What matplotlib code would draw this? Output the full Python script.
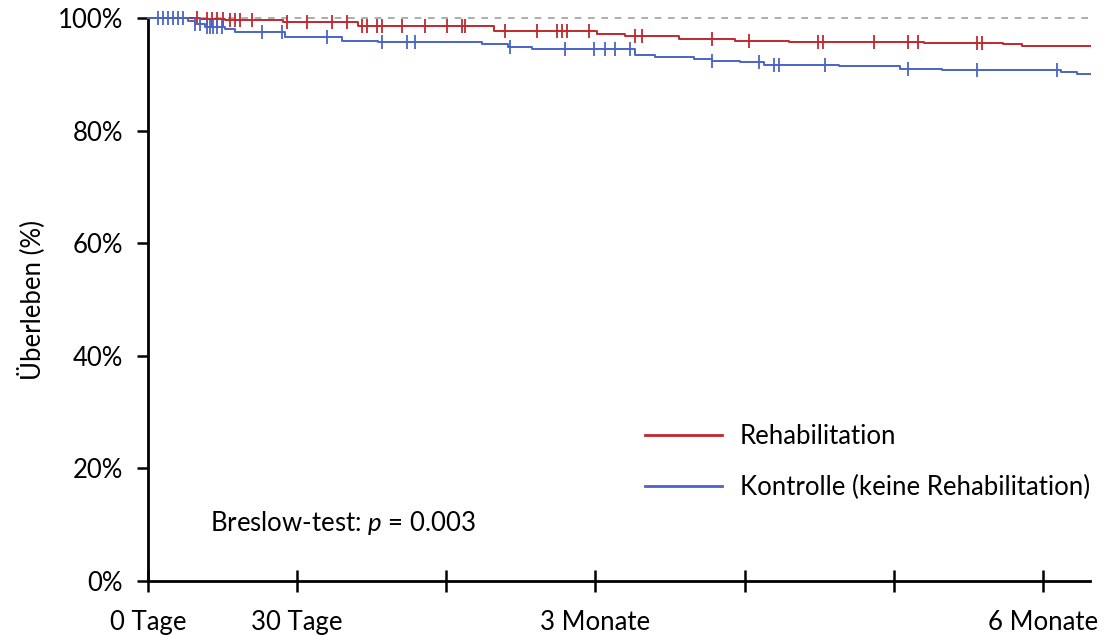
import matplotlib.pyplot as plt
import numpy as np

plt.rcParams["font.family"] = ["Lato", "DejaVu Sans"]
plt.rcParams["mathtext.fontset"] = "custom"
plt.rcParams["mathtext.it"] = "Lato:italic"
plt.rcParams["mathtext.rm"] = "Lato"

# Kaplan-Meier steps (days, survival % after the event)
reha_t = [10.5, 15.5, 27.1, 42.2, 69.7, 90.3, 95.9, 106.9, 118.0, 122.0,
          129.0, 156.2, 171.9, 175.9]
reha_s = [99.9, 99.7, 99.3, 98.5, 97.7, 97.2, 96.8, 96.3, 96.0, 95.9,
          95.7, 95.6, 95.4, 95.1]
reha_cens = [9.8, 11.9, 12.9, 13.9, 15.1, 16.5, 17.5, 18.5, 20.9, 27.9,
             32.0, 37.0, 40.0, 43.0, 44.0, 46.0, 47.0, 51.1, 55.7, 60.1,
             63.1, 63.7, 71.8, 78.2, 82.2, 83.2, 84.2, 88.8, 97.9, 99.3,
             113.4, 121.0, 134.7, 135.7, 146.1, 152.8, 154.8, 166.8, 167.8]

kontr_t = [8.0, 9.4, 11.5, 15.5, 17.5, 27.5, 39.0, 46.2, 67.1, 72.4,
           77.2, 97.9, 101.9, 109.9, 113.4, 119.0, 124.0, 139.1, 151.2,
           159.8, 183.7, 186.9]
kontr_s = [99.5, 98.9, 98.4, 98.1, 97.5, 96.6, 96.0, 95.7, 95.3, 94.8,
           94.5, 93.5, 93.1, 92.8, 92.4, 92.1, 91.7, 91.5, 91.0, 90.7,
           90.4, 90.1]
kontr_cens = [2.0, 3.0, 4.0, 5.0, 6.0, 7.0, 9.4, 10.5, 11.9, 12.5, 13.1,
              13.9, 14.9, 22.9, 26.9, 36.0, 47.0, 52.1, 53.7, 72.8, 83.8,
              89.8, 91.9, 93.9, 96.9, 113.4, 123.0, 126.0, 127.0, 136.1,
              152.8, 166.8, 182.9]

t_end = 189.5
xticks = [0, 30, 60, 90, 120, 150, 180]
xticklabels = ["0 Tage", "30 Tage", "", "3 Monate", "", "", "6 Monate"]
yticks = [0, 20, 40, 60, 80, 100]

RED = "#C0282D"
BLUE = "#4A64C8"
FS = 18.5


def survAt(times, surv, x):
    s = 100.0
    for t, v in zip(times, surv):
        if t <= x:
            s = v
    return s


def plotKM(ax, times, surv, cens, color, label):
    xs = [0] + list(times) + [t_end]
    ys = [100] + list(surv) + [surv[-1]]
    ax.step(xs, ys, where="post", color=color, lw=1.4, clip_on=False,
            label=label, zorder=3)
    cy = [survAt(times, surv, c) for c in cens]
    ax.plot(cens, cy, ls="none", marker="|", markersize=10, mew=1.3,
            color=color, clip_on=False, zorder=3)


fig = plt.figure(figsize=(11.17, 6.35), dpi=100)
ax = fig.add_axes([148 / 1117, 54 / 635, (1090 - 148) / 1117, (581 - 18) / 635])

ax.plot([0, t_end], [100, 100], ls=(0, (4, 4)), color="#A0A0A0", lw=1.2,
        clip_on=False, zorder=1)
plotKM(ax, reha_t, reha_s, reha_cens, RED, "Rehabilitation")
plotKM(ax, kontr_t, kontr_s, kontr_cens, BLUE, "Kontrolle (keine Rehabilitation)")

ax.set_xlim(0, t_end)
ax.set_ylim(0, 100)
ax.set_xticks(xticks)
ax.set_xticklabels(xticklabels, fontsize=FS)
ax.set_yticks(yticks)
ax.set_yticklabels([f"{v}%" for v in yticks], fontsize=FS)
ax.tick_params(axis="x", direction="inout", length=16, width=1.8, pad=13)
ax.tick_params(axis="y", direction="out", length=8, width=1.8, pad=10)
for s in ["top", "right"]:
    ax.spines[s].set_visible(False)
for s in ["left", "bottom"]:
    ax.spines[s].set_linewidth(2)
ax.set_ylabel("Überleben (%)", fontsize=FS, labelpad=9)

leg = ax.legend(loc="upper left", bbox_to_anchor=(0.5276, 0.278),
                frameon=False, fontsize=FS, handlelength=3.0,
                handletextpad=0.7, labelspacing=0.98, borderpad=0,
                borderaxespad=0)
for h in leg.get_lines():
    h.set_linewidth(2)

ax.text(0.066, 0.103, "Breslow-test: $p$ = 0.003", transform=ax.transAxes,
        fontsize=FS, va="center", ha="left")

fig.savefig("out.png", dpi=100)
